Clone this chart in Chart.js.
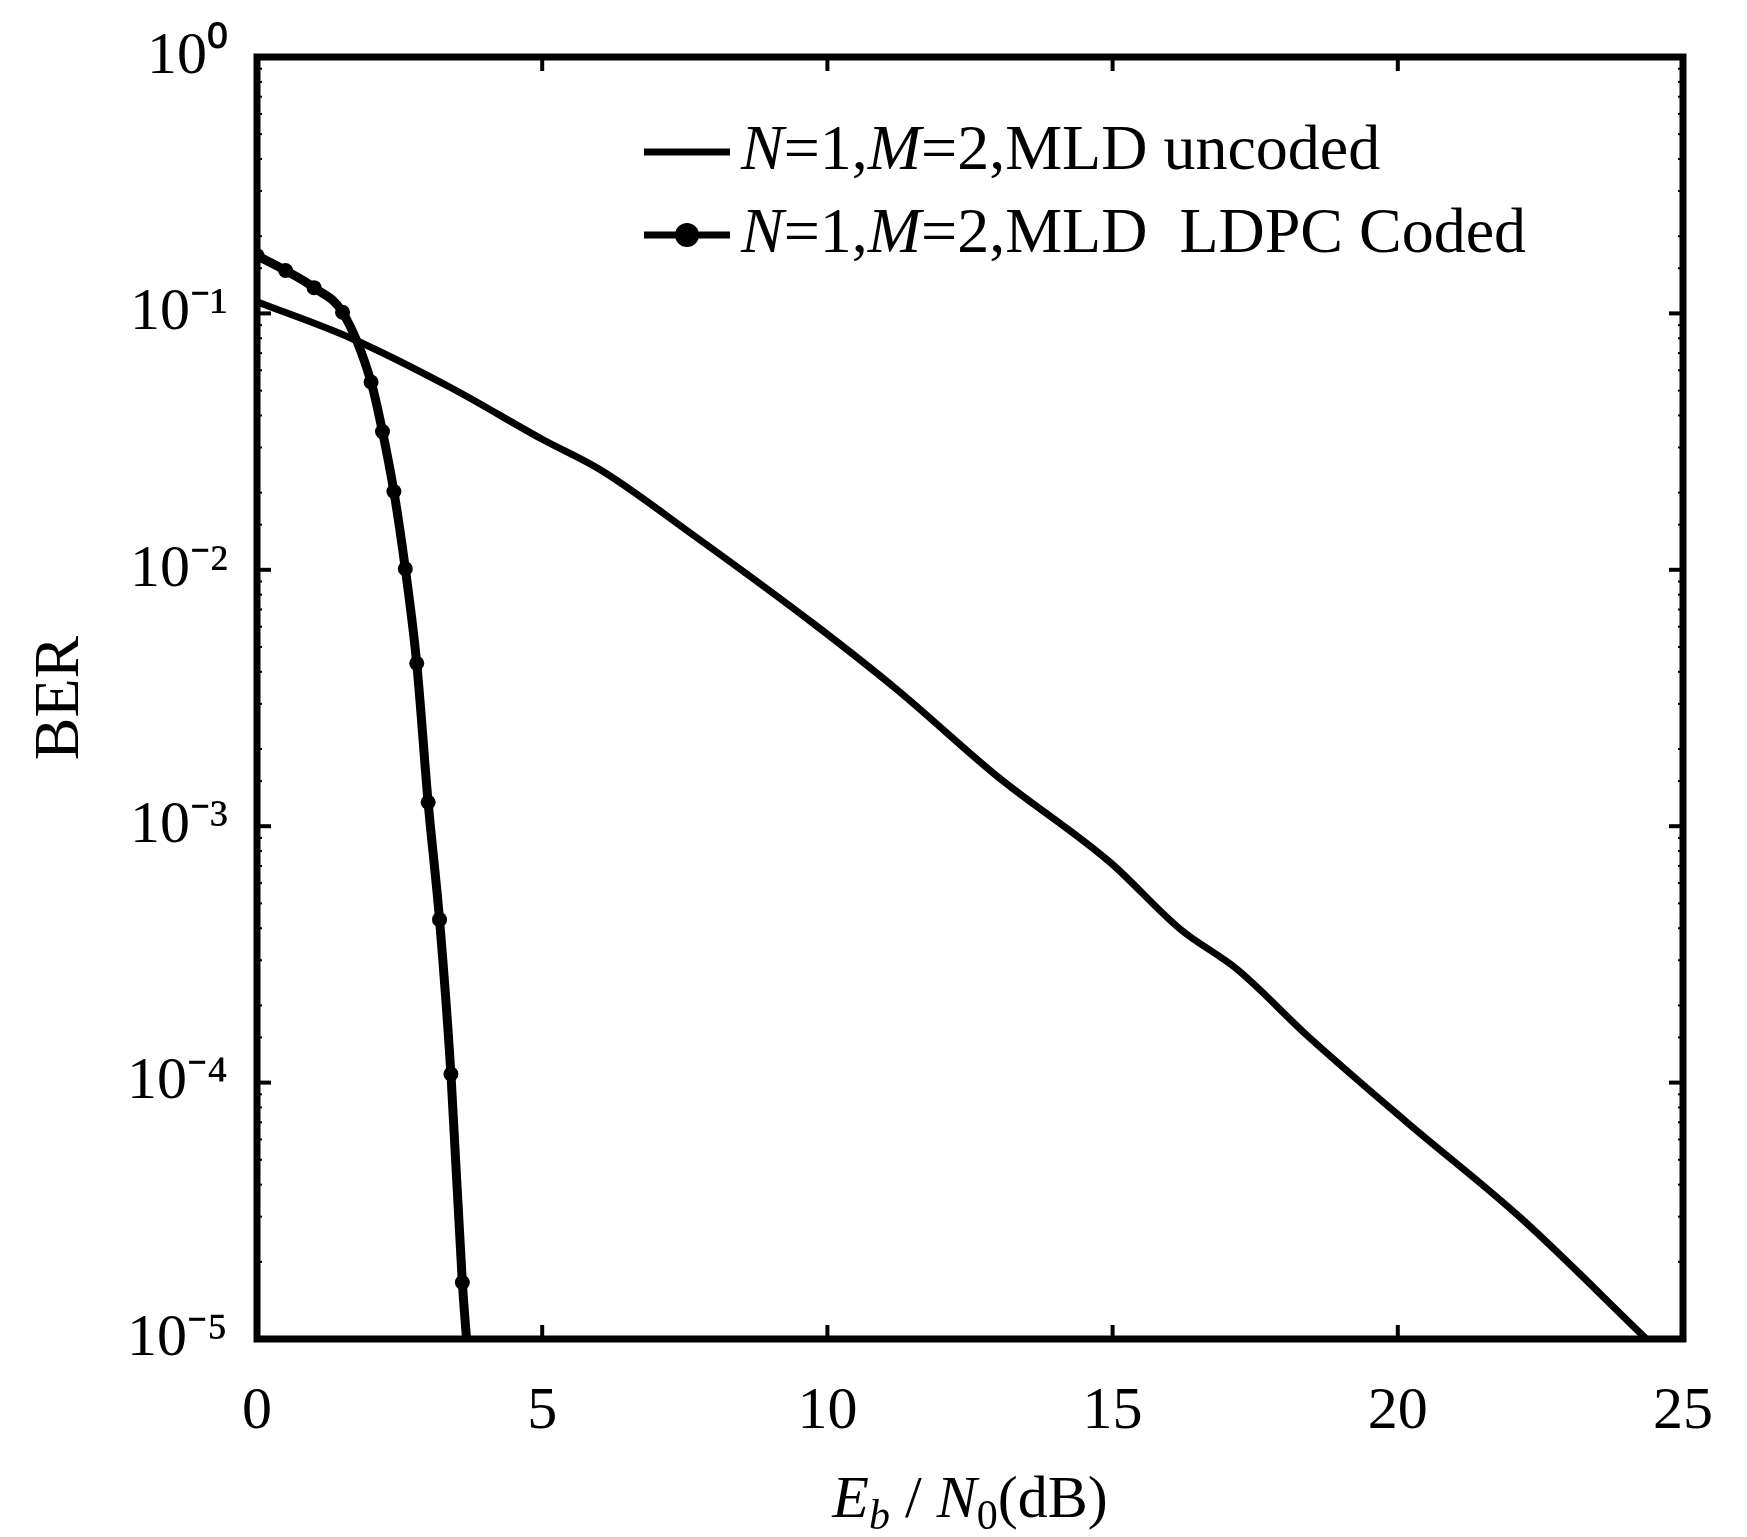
<!DOCTYPE html>
<html><head><meta charset="utf-8">
<script src="https://cdn.jsdelivr.net/npm/chart.js@4.4.1/dist/chart.umd.min.js"></script>
<style>html,body{margin:0;padding:0;background:#fff;}#wrap{width:1747px;height:1537px;position:relative;}</style>
</head><body><div id="wrap"><canvas id="c"></canvas></div>
<script>
// ---- data ----
const ebn0Uncoded = [0, 1.65, 3.4, 5, 6.04, 7.64, 9.75, 11.24, 12.97, 14.95, 16.19, 17.18, 18.42, 20.15, 22.13, 24.36];
const berUncoded  = [0.111, 0.080, 0.0513, 0.0323, 0.0244, 0.0137, 0.00618, 0.00338, 0.00157, 7.25e-4, 3.96e-4, 2.77e-4, 1.52e-4, 7.03e-5, 3.0e-5, 1.0e-5];
const ebn0Ldpc = [0, 0.5, 1.0, 1.5, 2.0, 2.2, 2.4, 2.6, 2.8, 3.0, 3.2, 3.4, 3.6, 3.8];
const berLdpc  = [0.168, 0.147, 0.126, 0.101, 0.054, 0.0346, 0.0202, 0.0101, 0.00432, 0.00124, 4.32e-4, 1.08e-4, 1.66e-5, 4.7e-6];
const seriesNames = ['N=1,M=2,MLD uncoded', 'N=1,M=2,MLD  LDPC Coded'];
const xTickValues = [0, 5, 10, 15, 20, 25];
const yExponents = [0, -1, -2, -3, -4, -5];
const yTitle = 'BER';
const xTitleParts = [
  {t: 'E', italic: true}, {t: 'b', italic: true, sub: true}, {t: ' / ', italic: false},
  {t: 'N', italic: true}, {t: '0', sub: true}, {t: '(dB)'}
];

const FONT = '"Liberation Serif", "Times New Roman", serif';
const SUP = {'0':'⁰','1':'¹','2':'²','3':'³','4':'⁴','5':'⁵','-':'⁻'};
function decadeOf(v) {
  const e = Math.log10(v), r = Math.round(e);
  return Math.abs(e - r) < 1e-9 ? r : null;
}

const framePlugin = {
  id: 'frame',
  afterDatasetsDraw(chart) {
    const {ctx, chartArea: a, scales: {x, y}} = chart;
    ctx.save();
    ctx.strokeStyle = '#000';
    ctx.lineCap = 'butt';
    ctx.lineWidth = 4;
    const seg = (x1, y1, x2, y2) => { ctx.beginPath(); ctx.moveTo(x1, y1); ctx.lineTo(x2, y2); ctx.stroke(); };
    x.ticks.forEach(t => {
      const px = x.getPixelForValue(t.value);
      seg(px, a.bottom, px, a.bottom - 14);
      seg(px, a.top, px, a.top + 14);
    });
    y.ticks.forEach(t => {
      const py = y.getPixelForValue(t.value);
      const major = decadeOf(t.value) !== null;
      ctx.lineWidth = major ? 4 : 2;
      const L = major ? 14 : 5;
      seg(a.left, py, a.left + L, py);
      seg(a.right, py, a.right - L, py);
    });
    ctx.lineWidth = 7;
    ctx.lineJoin = 'miter';
    ctx.strokeRect(a.left, a.top, a.right - a.left, a.bottom - a.top);
    ctx.restore();
  }
};

function drawRich(ctx, parts, x, y, size) {
  let cx = x;
  parts.forEach(p => {
    const s = p.sub ? Math.round(size * 0.7) : size;
    ctx.font = (p.italic ? 'italic ' : '') + s + 'px ' + FONT;
    ctx.fillText(p.t, cx, p.sub ? y + size * 0.2 : y);
    cx += ctx.measureText(p.t).width;
  });
  return cx - x;
}
function measureRich(ctx, parts, size) {
  let w = 0;
  parts.forEach(p => {
    const s = p.sub ? Math.round(size * 0.7) : size;
    ctx.font = (p.italic ? 'italic ' : '') + s + 'px ' + FONT;
    w += ctx.measureText(p.t).width;
  });
  return w;
}
function nameParts(name) {
  const out = [];
  const re = /([NM])(?==)/g;
  let last = 0, m;
  while ((m = re.exec(name)) !== null) {
    if (m.index > last) out.push({t: name.slice(last, m.index)});
    out.push({t: m[1], italic: true});
    last = m.index + 1;
  }
  if (last < name.length) out.push({t: name.slice(last)});
  return out;
}

const textPlugin = {
  id: 'texts',
  afterDraw(chart) {
    const {ctx, chartArea: a} = chart;
    ctx.save();
    ctx.fillStyle = '#000';
    ctx.textBaseline = 'alphabetic';
    ctx.textAlign = 'left';
    // x-axis title
    const size = 60;
    const w = measureRich(ctx, xTitleParts, size);
    drawRich(ctx, xTitleParts, (a.left + a.right) / 2 - w / 2, a.bottom + 178, size);
    // legend
    const rows = [a.top + 95, a.top + 178];
    chart.data.datasets.forEach((ds, i) => {
      const yy = rows[i];
      const x0 = a.left + 387, x1 = a.left + 473;
      ctx.strokeStyle = '#000';
      ctx.lineWidth = 7;
      ctx.beginPath(); ctx.moveTo(x0, yy); ctx.lineTo(x1, yy); ctx.stroke();
      if (ds.pointRadius > 0) {
        ctx.beginPath(); ctx.arc((x0 + x1) / 2, yy, 12, 0, Math.PI * 2); ctx.fill();
      }
      ctx.textBaseline = 'middle';
      drawRich(ctx, nameParts(ds.label), a.left + 484, yy, 64);
    });
    ctx.restore();
  }
};

const ctx = document.getElementById('c');
ctx.width = 1747; ctx.height = 1537;
new Chart(ctx, {
  type: 'line',
  data: {
    datasets: [
      {
        label: seriesNames[0],
        data: ebn0Uncoded.map((v, i) => ({x: v, y: berUncoded[i]})),
        borderColor: '#000', backgroundColor: '#000', borderWidth: 7,
        pointRadius: 0, cubicInterpolationMode: 'monotone', fill: false
      },
      {
        label: seriesNames[1],
        data: ebn0Ldpc.map((v, i) => ({x: v, y: berLdpc[i]})),
        borderColor: '#000', backgroundColor: '#000', borderWidth: 9,
        pointRadius: 7.5, pointStyle: 'circle', pointBorderWidth: 0,
        cubicInterpolationMode: 'monotone', fill: false
      }
    ]
  },
  options: {
    responsive: false,
    animation: false,
    devicePixelRatio: 1,
    layout: {padding: {left: 0, top: 50, right: 64, bottom: 0}},
    plugins: {legend: {display: false}, tooltip: {enabled: false}},
    scales: {
      x: {
        type: 'linear', min: 0, max: 25,
        afterBuildTicks: s => { s.ticks = xTickValues.map(v => ({value: v})); },
        grid: {display: false}, border: {display: false},
        ticks: {color: '#000', font: {family: FONT, size: 60}, padding: 29, maxRotation: 0, autoSkip: false},
        afterFit: s => { s.height = 198; }
      },
      y: {
        type: 'logarithmic', min: 1e-5, max: 1,
        grid: {display: false}, border: {display: false},
        ticks: {
          color: '#000', font: {family: FONT, size: 60}, padding: 21, autoSkip: false,
          callback: v => {
            const r = decadeOf(v);
            if (r === null || !yExponents.includes(r)) return '';
            return '10' + String(r).split('').map(c => SUP[c]).join('');
          }
        },
        title: {display: true, text: yTitle, color: '#000', font: {family: FONT, size: 64}, padding: {top: 23, bottom: 0}},
        afterFit: s => { s.width = 257; }
      }
    }
  },
  plugins: [framePlugin, textPlugin]
});
</script></body></html>
